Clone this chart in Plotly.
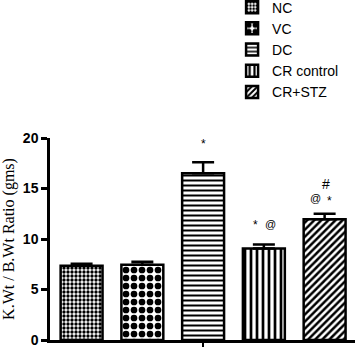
import plotly.graph_objects as go

groups = ["NC", "VC", "DC", "CR control", "CR+STZ"]
means = [7.35, 7.45, 16.5, 9.05, 11.95]
sems = [0.2, 0.3, 1.1, 0.4, 0.55]
patterns = [".", ".", "-", "|", "/"]
pat_sizes = [4, 8, 5, 6, 5]
pat_solid = [0.55, 0.55, 0.4, 0.45, 0.5]

y_ticks = [0, 5, 10, 15, 20]

fig = go.Figure()
for i, g in enumerate(groups):
    fig.add_trace(go.Bar(
        x=[g], y=[means[i]], name=g, width=0.69,
        marker=dict(color="white", line=dict(color="black", width=2.5),
                    pattern=dict(shape=patterns[i], size=pat_sizes[i],
                                 solidity=pat_solid[i], fgcolor="black",
                                 bgcolor="white", fillmode="replace")),
        error_y=dict(type="data", array=[sems[i]], arrayminus=[0], symmetric=False,
                     color="black", thickness=2.5, width=11),
    ))

# significance markers: (group, y, x-shift px, text, size)
marks = [
    ("DC", 19.4, 0, "*", 12),
    ("CR control", 11.4, -8, "*", 12),
    ("CR control", 11.5, 7, "@", 11),
    ("CR+STZ", 15.45, 1, "#", 14),
    ("CR+STZ", 14.05, -9, "@", 11),
    ("CR+STZ", 13.75, 5, "*", 12),
]
for g, yv, dx, t, s in marks:
    fig.add_annotation(x=g, y=yv, xshift=dx, text=t, showarrow=False,
                       font=dict(family="Liberation Sans", size=s, color="black"))

fig.update_layout(
    width=355, height=347,
    margin=dict(l=50, r=0, t=138, b=7, autoexpand=False),
    plot_bgcolor="white", paper_bgcolor="white",
    barmode="overlay",
    showlegend=True,
    legend=dict(x=0.597, y=1.725, xanchor="left", yanchor="top",
                font=dict(family="Liberation Sans", size=14, color="black"),
                bgcolor="rgba(0,0,0,0)", tracegroupgap=0),
    xaxis=dict(range=[-0.52, 4.5], showline=True, linecolor="black", linewidth=2.5,
               tickvals=["DC"], ticktext=[""], ticks="outside", ticklen=7,
               tickwidth=2, tickcolor="black", showgrid=False, zeroline=False,
               fixedrange=True),
    yaxis=dict(range=[0, 20], tickvals=y_ticks, showline=True, linecolor="black",
               linewidth=2.5, ticks="outside", ticklen=6, tickwidth=2.5,
               tickcolor="black", showgrid=False, zeroline=False,
               ticklabeloverflow="allow",
               tickfont=dict(family="Liberation Sans", size=14, color="black", weight="bold"),
               title=dict(text="K.Wt / B.Wt Ratio (gms)", standoff=6,
                          font=dict(family="Liberation Serif", size=16, color="black"))),
)

fig.write_html("out.html", config={"displayModeBar": False},
               post_script="document.body.style.margin='0';")
